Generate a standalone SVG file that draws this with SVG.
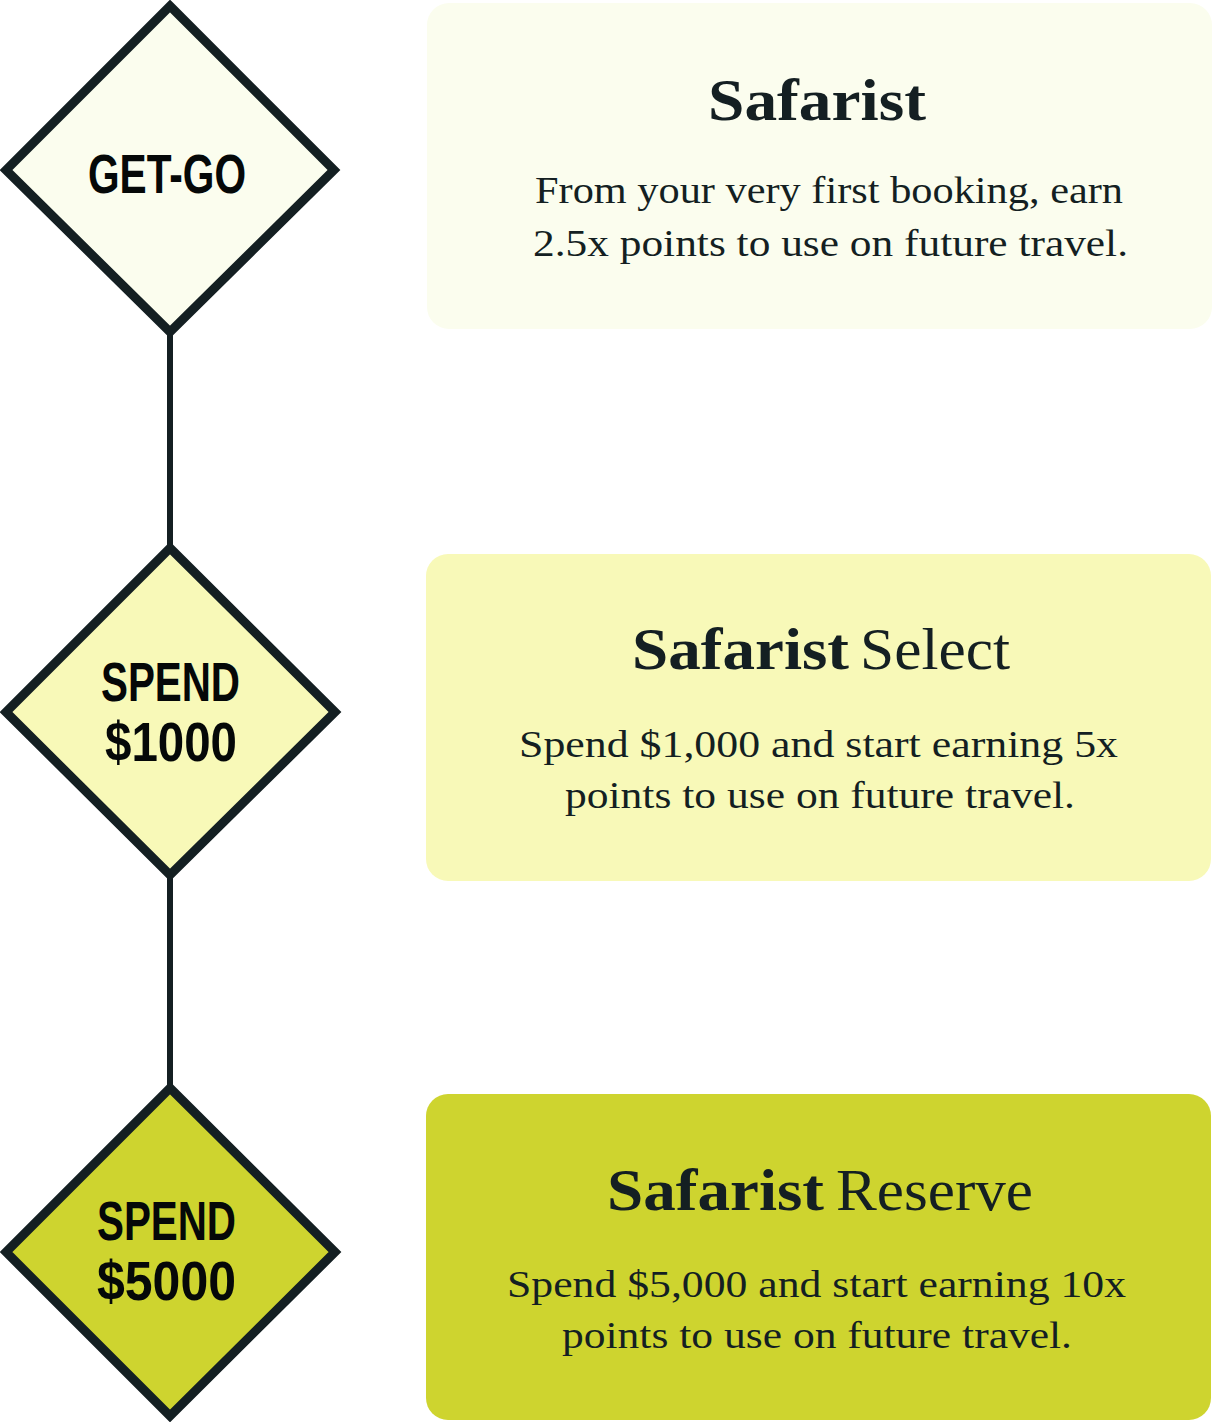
<svg xmlns="http://www.w3.org/2000/svg" width="1217" height="1422" viewBox="0 0 1217 1422">
<style>
.dia{stroke:#141f22;stroke-width:9;stroke-linejoin:miter}
.lbl{font-family:"Liberation Sans","DejaVu Sans",sans-serif;font-weight:bold;font-size:56px;fill:#050808}
.ttl{font-family:"Liberation Serif","DejaVu Serif",serif;font-size:60px;fill:#141f22}
.b{font-weight:bold}
.body{font-family:"Liberation Serif","DejaVu Serif",serif;font-size:38px;fill:#141f22}
.conn{stroke:#141f22;stroke-width:6;fill:none}
</style>
<rect width="1217" height="1422" fill="#ffffff"/>
<g id="connectors">
<line class="conn" x1="170" y1="333" x2="170" y2="547"/>
<line class="conn" x1="170" y1="876" x2="170" y2="1087"/>
</g>
<g id="node-getgo">
<polygon class="dia" fill="#fbfdee" points="170,6 334,170 170,332 6,170"/>
<text class="lbl" x="88" y="193" textLength="158" lengthAdjust="spacingAndGlyphs">GET-GO</text>
</g>
<g id="node-spend1000">
<polygon class="dia" fill="#f8f9b8" points="170,548 335,712 170,875 6,712"/>
<text class="lbl" x="101" y="701" textLength="139" lengthAdjust="spacingAndGlyphs">SPEND</text>
<text class="lbl" x="105" y="761" textLength="132" lengthAdjust="spacingAndGlyphs">$1000</text>
</g>
<g id="node-spend5000">
<polygon class="dia" fill="#ced42f" points="170,1088 335,1252 170,1416 6,1252"/>
<text class="lbl" x="97" y="1240" textLength="139" lengthAdjust="spacingAndGlyphs">SPEND</text>
<text class="lbl" x="97" y="1300" textLength="139" lengthAdjust="spacingAndGlyphs">$5000</text>
</g>
<g id="box-safarist">
<rect x="427" y="3" width="785" height="326" rx="22" fill="#fbfdee"/>
<text class="ttl b" x="708" y="120" textLength="218" lengthAdjust="spacingAndGlyphs">Safarist</text>
<text class="body" x="535" y="203" textLength="588" lengthAdjust="spacingAndGlyphs">From your very first booking, earn</text>
<text class="body" x="533" y="256" textLength="595" lengthAdjust="spacingAndGlyphs">2.5x points to use on future travel.</text>
</g>
<g id="box-select">
<rect x="426" y="554" width="785" height="327" rx="22" fill="#f8f9b8"/>
<text class="ttl" y="669"><tspan class="b" x="632" textLength="217" lengthAdjust="spacingAndGlyphs">Safarist</tspan><tspan x="860" textLength="150" lengthAdjust="spacingAndGlyphs">Select</tspan></text>
<text class="body" x="519" y="757" textLength="599" lengthAdjust="spacingAndGlyphs">Spend $1,000 and start earning 5x</text>
<text class="body" x="565" y="808" textLength="510" lengthAdjust="spacingAndGlyphs">points to use on future travel.</text>
</g>
<g id="box-reserve">
<rect x="426" y="1094" width="785" height="326" rx="22" fill="#ced42f"/>
<text class="ttl" y="1210"><tspan class="b" x="607" textLength="217" lengthAdjust="spacingAndGlyphs">Safarist</tspan><tspan x="836" textLength="197" lengthAdjust="spacingAndGlyphs">Reserve</tspan></text>
<text class="body" x="507" y="1297" textLength="619" lengthAdjust="spacingAndGlyphs">Spend $5,000 and start earning 10x</text>
<text class="body" x="562" y="1348" textLength="510" lengthAdjust="spacingAndGlyphs">points to use on future travel.</text>
</g>
</svg>
